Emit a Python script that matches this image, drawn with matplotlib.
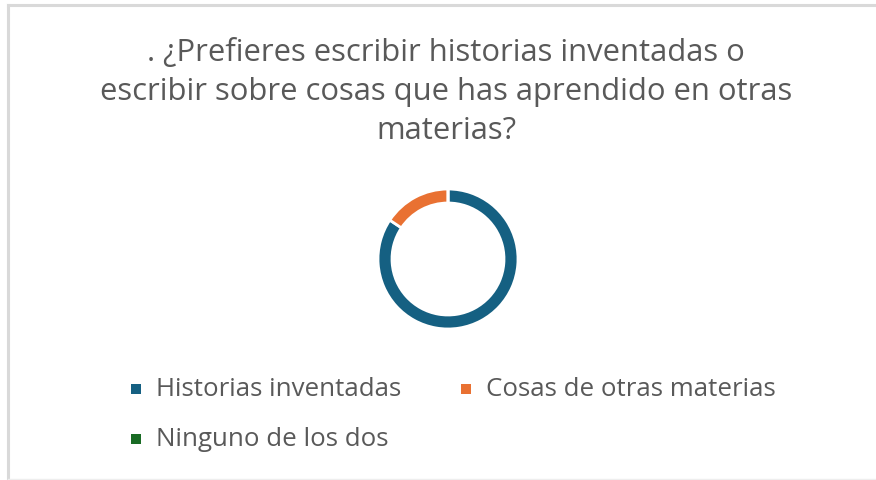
import matplotlib.pyplot as plt

# data
labels = ["Historias inventadas", "Cosas de otras materias", "Ninguno de los dos"]
counts = [27, 5, 0]
colors = ["#156082", "#E97132", "#196B24"]
title = ". ¿Prefieres escribir historias inventadas o\nescribir sobre cosas que has aprendido en otras\nmaterias?"

plt.rcParams["font.family"] = ["Open Sans", "DejaVu Sans"]
W, H = 876, 481
fig = plt.figure(figsize=(W / 100, H / 100), dpi=100)

# chart border (light gray, top/left/bottom) in pixel coords
bg = fig.add_axes([0, 0, 1, 1])
bg.set_xlim(0, W)
bg.set_ylim(H, 0)
bg.axis("off")
bg.plot([8, 8], [6, 480], color="#d9d9d9", lw=2.2)
bg.plot([8, W], [6, 6], color="#d9d9d9", lw=2.2)
bg.plot([8, W], [480, 480], color="#eeeeee", lw=1)

bg.text(446, 92, title, ha="center", va="center", fontsize=22.3,
        color="#595959", linespacing=1.4)

# donut
cx, cy, r = 448, 260, 70
ax = fig.add_axes([(cx - r) / W, (H - cy - r) / H, 2 * r / W, 2 * r / H])
ax.pie(counts, colors=colors, startangle=90, counterclock=False, radius=1,
       wedgeprops=dict(width=0.2, edgecolor="white", linewidth=2))
ax.set_xlim(-1.0, 1.0)
ax.set_ylim(-1.0, 1.0)
ax.set_aspect("equal")

# legend, laid out row-wise like the original
slots = [(136, 390), (466, 390), (136, 440)]
for (x, y), lab, col in zip(slots, labels, colors):
    bg.scatter([x], [y], marker="s", s=58, color=col, linewidths=0)
    bg.text(x + 20, y, lab, ha="left", va="center", fontsize=18.6, color="#595959")

fig.savefig("out.png", dpi=100)
